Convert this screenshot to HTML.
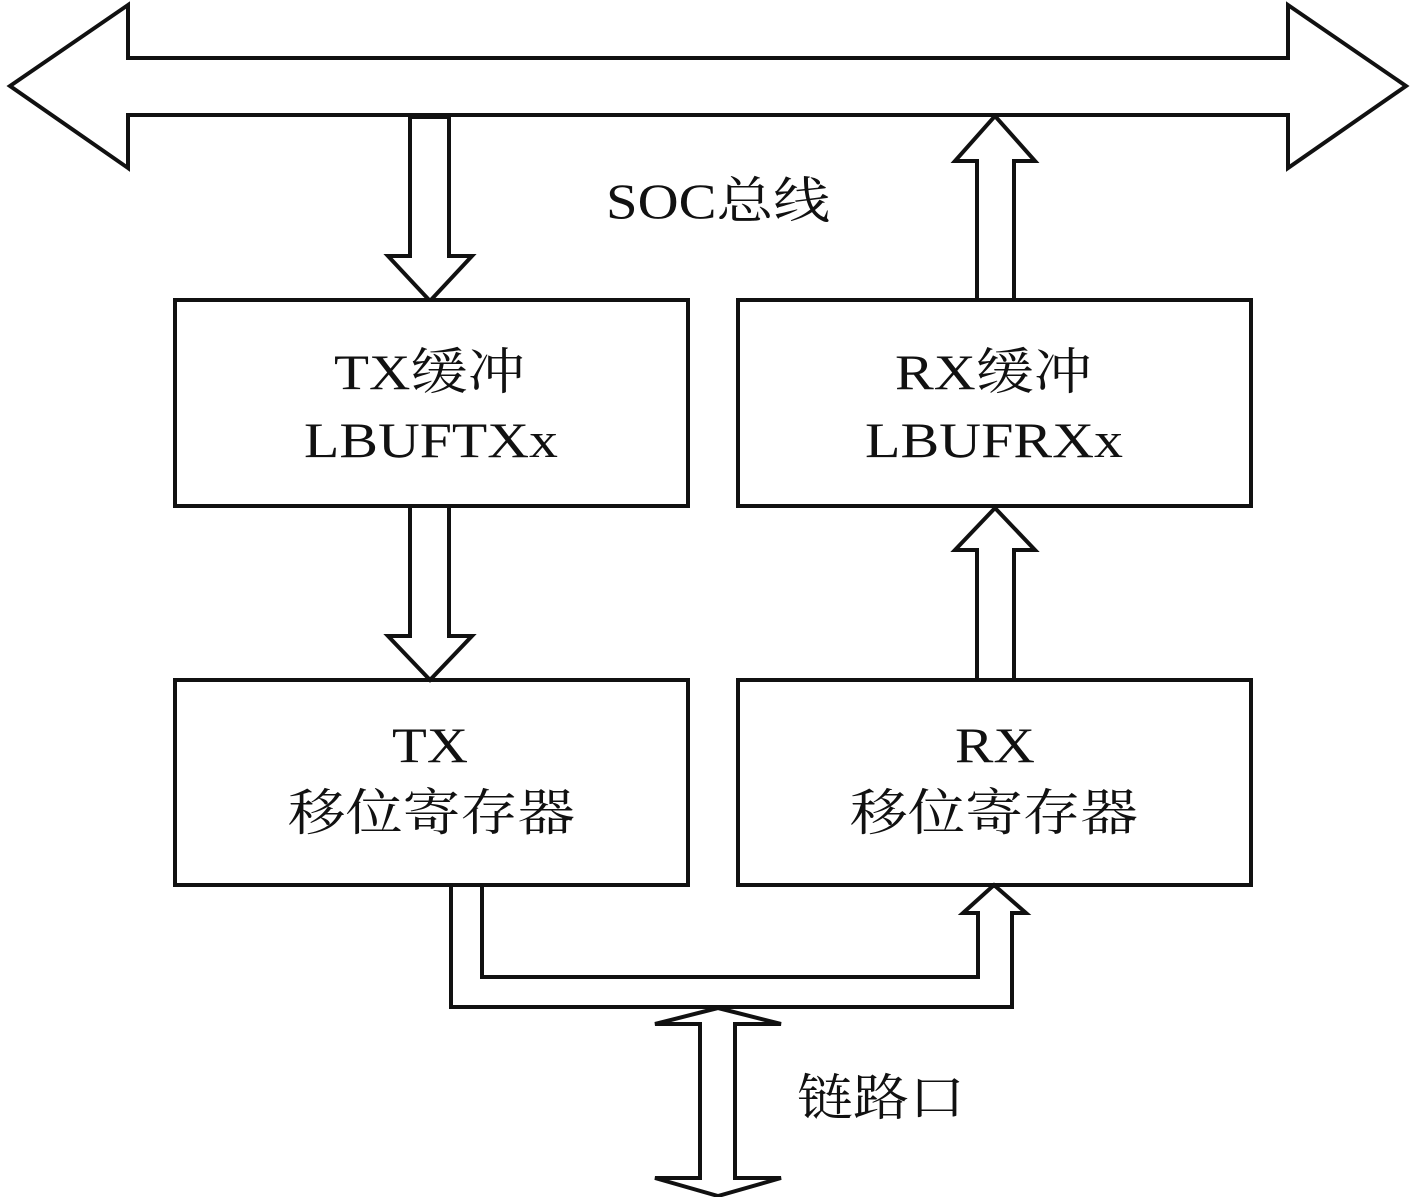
<!DOCTYPE html>
<html><head><meta charset="utf-8"><style>
html,body{margin:0;padding:0;background:#fff;}
svg{display:block;}
text{font-family:"Liberation Serif","Noto Serif CJK SC","Noto Sans CJK SC",serif;font-size:50px;fill:#111;}
</style></head><body>
<svg width="1417" height="1197" viewBox="0 0 1417 1197" xmlns="http://www.w3.org/2000/svg">
<g fill="#fff" stroke="#111" stroke-width="4" stroke-linejoin="miter">
<!-- SOC bus double arrow -->
<polygon points="10,86 128,5 128,58 1288,58 1288,5 1406,86 1288,168 1288,115 128,115 128,168"/>
<!-- TX down arrow from bus -->
<polygon points="410,117 449,117 449,256 472,256 430,301 388,256 410,256"/>
<!-- RX up arrow to bus -->
<polygon points="977,300 977,161 955,161 995,116 1035,161 1014,161 1014,300"/>
<!-- boxes -->
<rect x="175" y="300" width="513" height="206"/>
<rect x="738" y="300" width="513" height="206"/>
<rect x="175" y="680" width="513" height="205"/>
<rect x="738" y="680" width="513" height="205"/>
<!-- middle arrows -->
<polygon points="410,506 449,506 449,636 472,636 430,680 388,636 410,636"/>
<polygon points="977,680 977,550 955,550 995,508 1035,550 1014,550 1014,680"/>
<!-- bottom pipe -->
<polygon points="451,885 482,885 482,977 978,977 978,913 963,913 994,885 1026,913 1012,913 1012,1007 451,1007"/>
<!-- link port double arrow -->
<polygon points="718,1008 781,1024 735,1024 735,1178 781,1178 718,1196 655,1178 700,1178 700,1024 655,1024"/>
</g>
<text x="606" y="218" textLength="224" lengthAdjust="spacingAndGlyphs">SOC总线</text>
<text x="334" y="389" textLength="191" lengthAdjust="spacingAndGlyphs">TX缓冲</text>
<text x="304" y="457" textLength="254" lengthAdjust="spacingAndGlyphs">LBUFTXx</text>
<text x="895" y="389" textLength="197" lengthAdjust="spacingAndGlyphs">RX缓冲</text>
<text x="865" y="457" textLength="258" lengthAdjust="spacingAndGlyphs">LBUFRXx</text>
<text x="392" y="762" textLength="76" lengthAdjust="spacingAndGlyphs">TX</text>
<text x="288" y="830" textLength="287" lengthAdjust="spacingAndGlyphs">移位寄存器</text>
<text x="955" y="762" textLength="80" lengthAdjust="spacingAndGlyphs">RX</text>
<text x="850" y="830" textLength="288" lengthAdjust="spacingAndGlyphs">移位寄存器</text>
<text x="797" y="1115" textLength="168" lengthAdjust="spacingAndGlyphs">链路口</text>
</svg>
</body></html>
